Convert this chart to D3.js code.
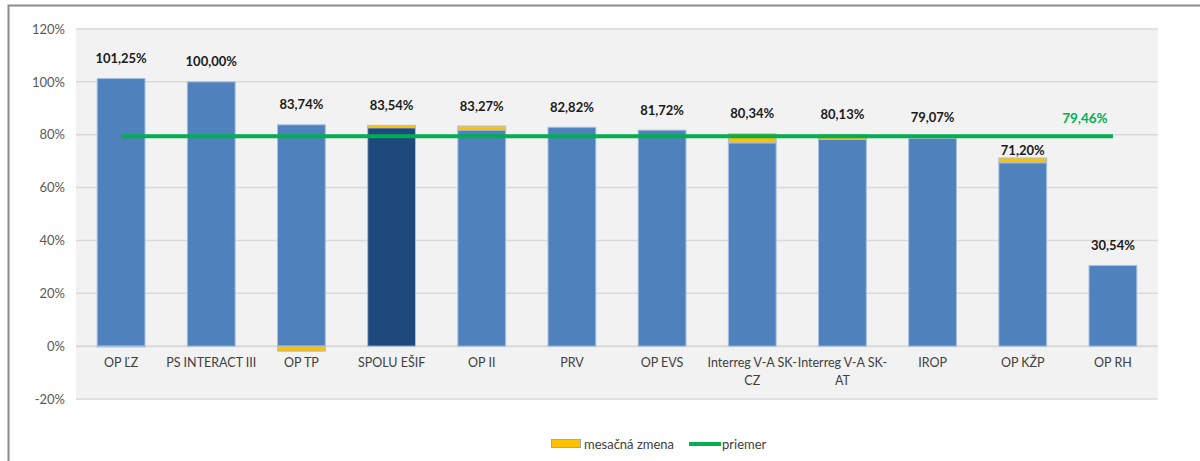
<!DOCTYPE html>
<html>
<head>
<meta charset="utf-8">
<script src="https://cdn.jsdelivr.net/npm/d3@7"></script>
<style>
  html, body { margin: 0; padding: 0; background: #ffffff; }
  svg { display: block; font-family: Lato, "Open Sans", "Noto Sans", sans-serif; }
</style>
</head>
<body>
<svg id="chart" width="1200" height="461"></svg>
<script>
// ---- data ----
const categories = ["OP ĽZ", "PS INTERACT III", "OP TP", "SPOLU EŠIF", "OP II", "PRV", "OP EVS",
  "Interreg V-A SK-CZ", "Interreg V-A SK-AT", "IROP", "OP KŽP", "OP RH"];
const totals = [101.25, 100.00, 83.74, 83.54, 83.27, 82.82, 81.72, 80.34, 80.13, 79.07, 71.20, 30.54];
const monthlyChange = [-0.3, 0, -1.9, 0.9, 1.5, 0, 0, 3.4, 1.9, 0.4, 1.8, 0];
const average = 79.46;
const totalCategory = "SPOLU EŠIF";
const yTicks = [-20, 0, 20, 40, 60, 80, 100, 120];
const legendLabels = ["mesačná zmena", "priemer"];

const fmt = v => v.toFixed(2).replace(".", ",") + "%";

// ---- layout ----
const svg = d3.select("#chart");
const plot = { left: 76, right: 1158, top: 29, bottom: 399 };

// outer frame
svg.append("rect").attr("x", 8.5).attr("y", 5.5).attr("width", 1300).attr("height", 500)
  .attr("fill", "none").attr("stroke", "#8c8c8c").attr("stroke-width", 2);

const x = d3.scaleBand().domain(categories).range([plot.left, plot.right])
  .paddingInner(0.47).paddingOuter(0.235);
const y = d3.scaleLinear().domain([-20, 120]).range([plot.bottom, plot.top]);

// plot background
svg.append("rect").attr("x", plot.left).attr("y", plot.top)
  .attr("width", plot.right - plot.left).attr("height", plot.bottom - plot.top)
  .attr("fill", "#f2f2f2");

// gridlines
svg.append("g").selectAll("line").data(yTicks).join("line")
  .attr("x1", plot.left).attr("x2", plot.right)
  .attr("y1", d => y(d)).attr("y2", d => y(d))
  .attr("stroke", "#d9d9d9").attr("stroke-width", d => d === 0 ? 2 : 1.5);

// y axis labels
const yAxis = d3.axisLeft(y).tickValues(yTicks).tickFormat(d => d + "%").tickSize(0).tickPadding(0);
const yg = svg.append("g").attr("transform", `translate(${plot.left - 11},0)`).call(yAxis);
yg.select(".domain").remove();
yg.selectAll("text").attr("fill", "#595959").style("font-size", "13px")
  .style("font-family", "Lato, 'Open Sans', sans-serif");

// bars
const rows = categories.map((c, i) => {
  const t = totals[i], ch = monthlyChange[i];
  return { c, t, ch, base: ch > 0 ? t - ch : t };
});
const bars = svg.append("g");
bars.selectAll("rect.base").data(rows).join("rect").attr("class", "base")
  .attr("x", d => x(d.c)).attr("width", x.bandwidth())
  .attr("y", d => y(d.base)).attr("height", d => y(0) - y(d.base))
  .attr("fill", d => d.c === totalCategory ? "#1f497d" : "#4f81bd")
  .attr("stroke", "#a6bfdf").attr("stroke-width", 1);
bars.selectAll("rect.chg").data(rows.filter(d => d.ch !== 0)).join("rect").attr("class", "chg")
  .attr("x", d => x(d.c)).attr("width", x.bandwidth())
  .attr("y", d => d.ch > 0 ? y(d.t) : y(0))
  .attr("height", d => Math.abs(y(0) - y(d.ch)))
  .attr("fill", d => d.ch > -0.5 && d.ch < 0 ? "#a6bfdf" : "#ffc000")
  .attr("stroke", "#a6bfdf").attr("stroke-width", 1);

// value labels (moved close to the bar when they would collide with the average line)
const avgY = y(average);
svg.append("g").selectAll("text").data(rows).join("text")
  .attr("x", d => x(d.c) + x.bandwidth() / 2)
  .attr("y", d => {
    const top = y(Math.max(d.t, d.base));
    let ly = top - 20;
    if (Math.abs(ly - avgY) < 11) ly = top - 8;
    return ly;
  })
  .attr("dy", "0.35em")
  .attr("text-anchor", "middle")
  .attr("font-weight", "bold").attr("font-size", "13px").attr("fill", "#1a1a1a")
  .text(d => fmt(d.t));

// average line
const x0 = x(categories[0]) + x.bandwidth() / 2;
const x1 = x(categories[categories.length - 1]) + x.bandwidth() / 2;
svg.append("line").attr("x1", x0).attr("x2", x1).attr("y1", avgY).attr("y2", avgY)
  .attr("stroke", "#00b050").attr("stroke-width", 4);
svg.append("text").attr("x", x1 - 28).attr("y", avgY - 18).attr("dy", "0.35em")
  .attr("text-anchor", "middle").attr("font-weight", "bold").attr("font-size", "13.5px")
  .attr("fill", "#00b050").text(fmt(average));

// x labels with wrapping
const xFont = "12.5px";
function wrapLines(text, maxW) {
  const tokens = text.match(/[^\s-]+-?|\s+/g).filter(s => s.trim() !== "");
  const lines = [];
  let cur = "";
  const tmp = svg.append("text").attr("font-size", xFont).style("visibility", "hidden");
  const w = s => { tmp.text(s); return tmp.node().getComputedTextLength(); };
  tokens.forEach(tok => {
    const sep = cur === "" || cur.endsWith("-") ? "" : " ";
    const cand = cur + sep + tok;
    if (cur !== "" && w(cand) > maxW) { lines.push(cur); cur = tok; }
    else cur = cand;
  });
  if (cur) lines.push(cur);
  tmp.remove();
  return lines;
}
const xl = svg.append("g");
categories.forEach(c => {
  const lines = wrapLines(c, 98);
  const cx = x(c) + x.bandwidth() / 2;
  const t = xl.append("text").attr("x", cx).attr("y", 363)
    .attr("text-anchor", "middle").attr("font-size", xFont).attr("fill", "#404040");
  lines.forEach((ln, i) => {
    t.append("tspan").attr("x", cx).attr("y", 363 + i * 18).attr("dy", "0.35em").text(ln);
  });
});

// legend
const lg = svg.append("g");
lg.append("rect").attr("x", 551.5).attr("y", 439.5).attr("width", 29).attr("height", 8)
  .attr("fill", "#ffc000").attr("stroke", "#a6a6a6").attr("stroke-width", 1);
lg.append("text").attr("x", 584).attr("y", 444).attr("dy", "0.35em")
  .attr("font-size", "13px").attr("fill", "#404040").text(legendLabels[0]);
lg.append("line").attr("x1", 689).attr("x2", 721).attr("y1", 444).attr("y2", 444)
  .attr("stroke", "#00b050").attr("stroke-width", 4);
lg.append("text").attr("x", 722).attr("y", 444).attr("dy", "0.35em")
  .attr("font-size", "13px").attr("fill", "#404040").text(legendLabels[1]);
</script>
</body>
</html>
